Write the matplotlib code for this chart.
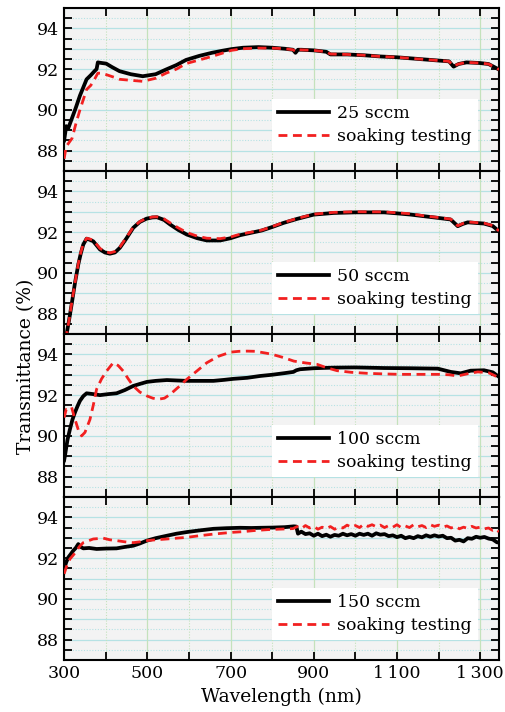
import numpy as np
import matplotlib
matplotlib.use("Agg")
import matplotlib.pyplot as plt
from matplotlib.ticker import MultipleLocator, FixedLocator, FuncFormatter

plt.rcParams['font.family'] = ['DejaVu Serif']

# ---- data ----
labels = ["25 sccm", "50 sccm", "100 sccm", "150 sccm"]
x_major = [300, 500, 700, 900, 1100, 1300]

wl_25 = [300, 305, 310, 319, 328, 338, 346, 354, 364, 373, 378, 381, 390, 401, 415, 433, 460,
         489, 520, 545, 570, 593, 625, 655, 680, 702, 730, 767, 800, 830, 850, 856, 862, 870,
         900, 930, 940, 980, 1020, 1060, 1100, 1150, 1200, 1225, 1236, 1248, 1267, 1298, 1320, 1345]
t_25 = [88.5, 89.2, 89.1, 89.6, 90.1, 90.7, 91.1, 91.5, 91.7, 91.9, 92.0, 92.33, 92.3, 92.27,
        92.1, 91.9, 91.75, 91.65, 91.75, 91.98, 92.2, 92.45, 92.65, 92.8, 92.9, 92.98, 93.05,
        93.08, 93.05, 93.0, 92.95, 92.8, 92.95, 92.95, 92.92, 92.85, 92.72, 92.72, 92.68, 92.62,
        92.58, 92.5, 92.42, 92.38, 92.12, 92.25, 92.33, 92.3, 92.25, 91.98]
wl_25s = [300, 305, 312, 319, 328, 338, 346, 354, 364, 373, 381, 389, 401, 420, 433, 460, 489,
          520, 545, 570, 593, 625, 655, 680, 702, 730, 767, 800, 830, 850, 858, 865, 900, 930,
          940, 980, 1020, 1060, 1100, 1150, 1200, 1225, 1236, 1248, 1267, 1298, 1320, 1345]
t_25s = [87.6, 88.2, 88.4, 88.6, 89.3, 90.0, 90.5, 91.0, 91.2, 91.5, 91.8, 91.8, 91.73, 91.6,
         91.5, 91.45, 91.4, 91.55, 91.8, 92.0, 92.27, 92.45, 92.62, 92.78, 92.92, 93.0, 93.03,
         93.03, 93.0, 92.95, 92.85, 92.95, 92.92, 92.85, 92.74, 92.72, 92.68, 92.62, 92.58, 92.5,
         92.42, 92.38, 92.15, 92.25, 92.33, 92.3, 92.25, 91.98]

wl_50 = [300, 306, 312, 318, 326, 334, 340, 346, 354, 362, 370, 378, 386, 398, 410, 422, 434,
         450, 466, 482, 498, 512, 523, 540, 555, 575, 595, 620, 643, 675, 700, 723, 750, 775,
         800, 827, 860, 900, 948, 1001, 1069, 1100, 1133, 1165, 1198, 1229, 1246, 1258, 1270,
         1309, 1330, 1345]
t_50 = [86.0, 87.0, 87.7, 88.45, 89.5, 90.41, 90.95, 91.39, 91.68, 91.62, 91.55, 91.35, 91.15,
        91.0, 90.94, 91.0, 91.23, 91.7, 92.21, 92.5, 92.66, 92.72, 92.73, 92.6, 92.37, 92.1,
        91.88, 91.7, 91.59, 91.59, 91.7, 91.85, 91.97, 92.08, 92.25, 92.45, 92.65, 92.86, 92.94,
        92.97, 92.97, 92.92, 92.86, 92.78, 92.7, 92.62, 92.29, 92.4, 92.48, 92.42, 92.3, 92.04]
t_50s = [86.0, 87.0, 87.7, 88.5, 89.5, 90.45, 91.0, 91.42, 91.7, 91.66, 91.6, 91.4, 91.2,
         91.05, 90.98, 91.05, 91.27, 91.75, 92.24, 92.52, 92.68, 92.74, 92.75, 92.65, 92.45, 92.2,
         91.98, 91.8, 91.7, 91.68, 91.76, 91.9, 92.0, 92.1, 92.27, 92.47, 92.67, 92.88, 92.97,
         93.0, 92.99, 92.95, 92.9, 92.8, 92.72, 92.64, 92.31, 92.42, 92.5, 92.44, 92.32, 92.06]

wl_100 = [300, 302, 308, 314, 320, 326, 332, 338, 346, 354, 370, 386, 406, 426, 446, 466, 482,
          499, 520, 547, 570, 595, 630, 659, 685, 707, 740, 771, 800, 830, 851, 858, 867, 900,
          948, 1000, 1069, 1130, 1198, 1229, 1253, 1277, 1309, 1330, 1345]
t_100 = [88.8, 89.03, 89.8, 90.33, 90.8, 91.15, 91.45, 91.72, 91.95, 92.09, 92.05, 92.0, 92.05,
         92.09, 92.25, 92.45, 92.55, 92.65, 92.7, 92.74, 92.72, 92.7, 92.7, 92.7, 92.75, 92.8,
         92.85, 92.94, 93.0, 93.08, 93.14, 93.22, 93.27, 93.32, 93.35, 93.36, 93.33, 93.32,
         93.3, 93.14, 93.07, 93.2, 93.22, 93.12, 92.9]
wl_100s = [300, 305, 310, 318, 326, 334, 342, 350, 362, 370, 378, 390, 402, 418, 430, 442, 454,
           466, 482, 499, 513, 527, 541, 555, 575, 595, 620, 643, 670, 700, 720, 740, 760, 788,
           800, 826, 852, 880, 908, 930, 956, 990, 1029, 1070, 1109, 1150, 1198, 1225, 1246,
           1270, 1294, 1320, 1345]
t_100s = [90.9, 91.3, 91.3, 91.4, 90.82, 90.3, 90.0, 90.17, 90.8, 91.5, 92.29, 92.8, 93.18,
          93.59, 93.45, 93.18, 92.8, 92.45, 92.15, 91.96, 91.85, 91.8, 91.85, 92.04, 92.4, 92.78,
          93.2, 93.59, 93.9, 94.11, 94.15, 94.16, 94.15, 94.05, 94.0, 93.85, 93.67, 93.58, 93.51,
          93.35, 93.2, 93.12, 93.07, 93.04, 93.02, 93.02, 93.02, 93.0, 92.94, 93.05, 93.14, 93.1,
          92.86]

wl_150 = [300, 305, 310, 316, 322, 328, 334, 340, 346, 360, 378, 400, 426, 446, 466, 482, 499,
          520, 547, 570, 595, 625, 659, 690, 723, 750, 771, 800, 830, 852, 858,
          862, 870, 880, 890, 900, 910, 920, 930, 940, 950, 960, 970, 980, 990, 1000, 1010,
          1020, 1030, 1040, 1050, 1060, 1070, 1080, 1090, 1100, 1110, 1120, 1130, 1140, 1150,
          1160, 1170, 1180, 1190, 1200, 1210, 1220, 1230, 1240, 1250, 1260, 1270, 1280, 1290,
          1300, 1310, 1320, 1330, 1340, 1345]
t_150 = [91.47, 91.8, 92.04, 92.2, 92.37, 92.5, 92.69, 92.55, 92.48, 92.5, 92.45, 92.47, 92.48,
         92.55, 92.61, 92.72, 92.86, 92.98, 93.1, 93.2, 93.28, 93.36, 93.44, 93.47, 93.49, 93.48,
         93.49, 93.5, 93.52, 93.56, 93.55,
         93.2, 93.3, 93.18, 93.22, 93.1, 93.2, 93.08, 93.15, 93.05, 93.14, 93.1, 93.2, 93.12,
         93.18, 93.1, 93.2, 93.14, 93.2, 93.1, 93.22, 93.15, 93.18, 93.08, 93.12, 93.03, 93.1,
         92.98, 93.04, 92.98, 93.08, 93.02, 93.12, 93.05, 93.12, 93.06, 93.1, 92.98, 93.0, 92.86,
         92.9, 92.82, 92.98, 92.95, 93.05, 93.0, 93.04, 92.96, 92.92, 92.78, 92.76]
wl_150s = [300, 306, 314, 322, 330, 338, 346, 358, 370, 382, 394, 410, 426, 446, 466, 482, 499,
           520, 547, 570, 595, 625, 659, 690, 707, 730, 755, 790, 827, 850,
           860, 870, 880, 890, 900, 910, 920, 930, 940, 950, 960, 970, 980, 990, 1000, 1010,
           1020, 1030, 1040, 1050, 1060, 1070, 1080, 1090, 1100, 1110, 1120, 1130, 1140, 1150,
           1160, 1170, 1180, 1190, 1200, 1210, 1220, 1230, 1240, 1250, 1260, 1270, 1280, 1290,
           1300, 1310, 1320, 1330, 1340, 1345]
t_150s = [91.23, 91.6, 91.96, 92.15, 92.37, 92.6, 92.76, 92.85, 92.94, 92.96, 92.98, 92.9,
          92.86, 92.8, 92.76, 92.8, 92.86, 92.9, 92.94, 92.98, 93.02, 93.1, 93.18, 93.24, 93.27,
          93.3, 93.35, 93.4, 93.43, 93.45,
          93.55, 93.45, 93.6, 93.48, 93.56, 93.42, 93.52, 93.45, 93.55, 93.42, 93.52, 93.48,
          93.62, 93.52, 93.6, 93.5, 93.66, 93.56, 93.64, 93.54, 93.62, 93.5, 93.6, 93.52, 93.64,
          93.5, 93.58, 93.5, 93.64, 93.54, 93.6, 93.5, 93.64, 93.56, 93.62, 93.52, 93.58, 93.48,
          93.56, 93.44, 93.52, 93.46, 93.56, 93.48, 93.52, 93.44, 93.48, 93.36, 93.42, 93.28]

panels = [(wl_25, t_25, wl_25s, t_25s),
          (wl_50, t_50, wl_50, t_50s),
          (wl_100, t_100, wl_100s, t_100s),
          (wl_150, t_150, wl_150s, t_150s)]


def fmt_wl(v, pos):
    v = int(round(v))
    if v >= 1000:
        return f"{v // 1000}\u2009{v % 1000:03d}"
    return str(v)


fig, axs = plt.subplots(4, 1, sharex=True, figsize=(5.05, 7.12), dpi=100)
fig.subplots_adjust(left=0.127, right=0.988, top=0.9888, bottom=0.073, hspace=0)

for ax, (wa, ta, wb, tb), lab in zip(axs, panels, labels):
    ax.set_facecolor('#f3f3f3')
    ax.plot(wa, ta, color='black', lw=2.7, label=lab, zorder=3)
    ax.plot(wb, tb, color='#f22020', lw=2.0, dashes=(3.2, 2.0), label='soaking testing', zorder=4)

    ax.set_xlim(300, 1345)
    ax.set_ylim(87, 95)
    ax.xaxis.set_major_locator(FixedLocator(x_major))
    ax.xaxis.set_minor_locator(MultipleLocator(100))
    ax.yaxis.set_major_locator(MultipleLocator(2))
    ax.yaxis.set_minor_locator(MultipleLocator(0.5))

    # grid: cyan horizontals, green verticals
    for v in np.arange(87, 95.01, 0.5):
        if v % 1 == 0:
            ax.axhline(v, color='#b6e2e4', lw=0.9, zorder=0)
        else:
            ax.axhline(v, color='#b6e2e4', lw=0.8, ls=(0, (1, 1.5)), zorder=0)
    for v in range(300, 1345, 100):
        if v in x_major:
            ax.axvline(v, color='#c4e2bc', lw=0.9, zorder=0)
        else:
            ax.axvline(v, color='#c4e2bc', lw=0.8, ls=(0, (1, 1.5)), zorder=0)

    ax.tick_params(which='both', direction='in', top=True, right=True,
                   length=6, width=1.3, labelsize=12.5, colors='black')
    for s in ax.spines.values():
        s.set_linewidth(1.5)

    leg = ax.legend(loc='lower right', bbox_to_anchor=(0.952, 0.12), fontsize=12.5,
                    frameon=True, fancybox=False, framealpha=1, edgecolor='none',
                    facecolor='white', handlelength=2.9, handletextpad=0.5,
                    labelspacing=0.35, borderpad=0.35, borderaxespad=0)

axs[-1].xaxis.set_major_formatter(FuncFormatter(fmt_wl))
axs[-1].set_xlabel('Wavelength (nm)', fontsize=13.5, labelpad=4)
fig.text(0.051, 0.485, 'Transmittance (%)', rotation=90, fontsize=13.5,
         ha='center', va='center')

fig.savefig('out.png', dpi=100)
